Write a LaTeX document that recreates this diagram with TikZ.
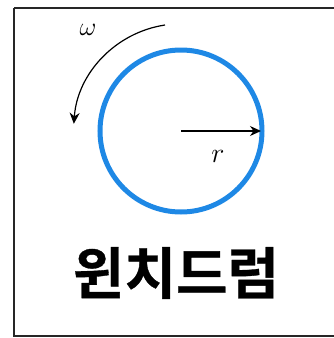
\documentclass[tikz,border=0pt]{standalone}
\usepackage{fix-cm}
\usepackage{fontspec}
\newfontfamily\krfont[FakeBold=0.6]{Noto Sans CJK KR Bold}
\usetikzlibrary{arrows.meta}
\definecolor{drumblue}{RGB}{30,136,229}
\tikzset{
  frame/.style={draw=black!85, line width=1.3pt},
  drum/.style={draw=drumblue, line width=5pt},
  arr/.style={-{Stealth[length=11pt,width=10pt]}, line width=1.2pt, black},
}
\begin{document}
\begin{tikzpicture}[x=1pt,y=-1pt]
\useasboundingbox (0,0) rectangle (334,338);
\draw[frame] (14,8) -- (14,336) -- (340,336);
\draw[frame] (14,8) -- (340,8);
\coordinate (c) at (181,131);
\draw[drum] (c) circle[radius=81];
\coordinate (rim) at (261,131);
\draw[arr] (c) -- (rim);
\node[font=\fontsize{28}{30}\selectfont] (r) at (218,156) {$r$};
\coordinate (ws) at (165,25);
\draw[arr] (ws) arc[start angle=261.4, end angle=184, radius=107.5];
\node[font=\fontsize{26}{28}\selectfont] (w) at (88,30) {$\omega$};
\node[font=\krfont\fontsize{56}{64}\selectfont] (t) at (176,273) {윈치드럼};
\end{tikzpicture}
\end{document}
